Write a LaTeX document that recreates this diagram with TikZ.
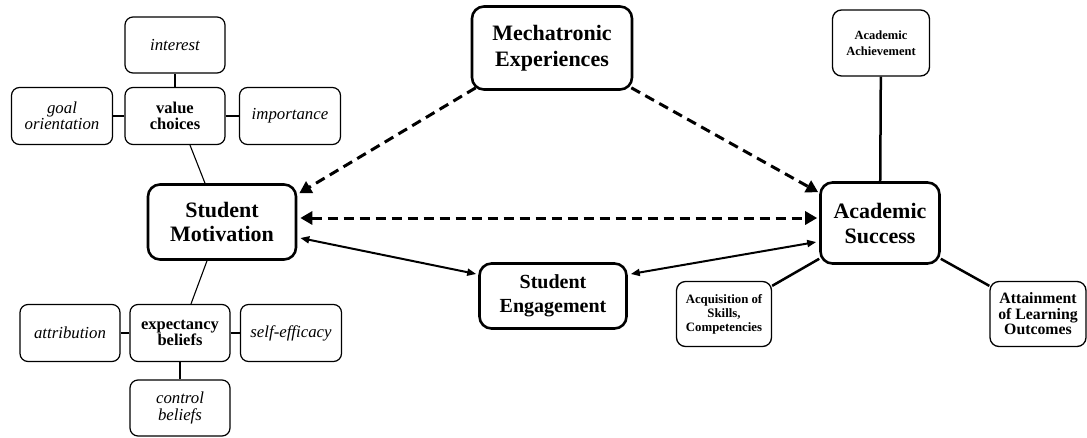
\documentclass[tikz,border=0pt]{standalone}
\usepackage{fontspec}
\setmainfont{Liberation Serif}
\usetikzlibrary{arrows.meta}
\begin{document}
\begin{tikzpicture}[x=1pt,y=-1pt,
  small/.style={draw,rounded corners=8pt,line width=1.2pt,align=center,inner sep=0pt,font=\fontsize{16.8}{16.5}\selectfont\itshape},
  smallb/.style={small,font=\fontsize{16.5}{16}\selectfont\bfseries},
  big/.style={draw,rounded corners=12pt,line width=2.6pt,align=center,inner sep=0pt,font=\fontsize{22}{25}\selectfont\bfseries},
  outc/.style={draw,rounded corners=9pt,line width=1.3pt,align=center,inner sep=0pt},
  thin/.style={line width=1.1pt},
  dasharrow/.style={line width=3pt,dash pattern=on 10pt off 6pt,{Triangle[length=12pt,width=13pt]}-{Triangle[length=12pt,width=13pt]}},
  solidarrow/.style={line width=2pt,{Triangle[length=9pt,width=7pt]}-{Triangle[length=9pt,width=7pt]}},
  thick/.style={line width=2.5pt}]
\useasboundingbox (0,0) rectangle (1087,437);
% left cluster
\node[small,minimum width=100pt,minimum height=56pt] (int) at (175,45) {interest};
\node[smallb,minimum width=100pt,minimum height=57pt] (vc) at (175,116) {value\\choices};
\node[small,minimum width=101pt,minimum height=57pt] (go) at (62,116) {goal\\orientation};
\node[small,minimum width=101pt,minimum height=57pt] (imp) at (290,116) {importance};
\node[big,minimum width=148pt,minimum height=75pt,font=\fontsize{22}{24}\selectfont\bfseries] (mot) at (222,222) {Student\\Motivation};
\node[smallb,minimum width=100pt,minimum height=57pt] (eb) at (180,333) {expectancy\\beliefs};
\node[small,minimum width=100pt,minimum height=57pt] (att) at (70,333) {attribution};
\node[small,minimum width=101pt,minimum height=57pt] (se) at (291,333) {self-efficacy};
\node[small,minimum width=100pt,minimum height=56pt] (cb) at (180,408) {control\\beliefs};
% centre
\node[big,minimum width=160pt,minimum height=83pt,font=\fontsize{22}{26.5}\selectfont\bfseries] (mech) at (552,48) {Mechatronic\\Experiences};
\node[big,minimum width=147pt,minimum height=65pt,font=\fontsize{20}{24}\selectfont\bfseries] (eng) at (553,296) {Student\\Engagement};
% right cluster
\node[big,minimum width=119pt,minimum height=81pt] (suc) at (880,223) {Academic\\Success};
\node[outc,minimum width=97pt,minimum height=66pt,font=\fontsize{12.5}{16}\selectfont\bfseries] (ach) at (881,43) {Academic\\Achievement};
\node[outc,minimum width=95pt,minimum height=65pt,font=\fontsize{12.8}{14}\selectfont\bfseries] (acq) at (724,314) {Acquisition of\\Skills,\\Competencies};
\node[outc,minimum width=96pt,minimum height=65pt,font=\fontsize{15.8}{15.5}\selectfont\bfseries] (atn) at (1038,314) {Attainment\\of Learning\\Outcomes};
% thin connectors
\draw[thin] (vc) -- (int);
\draw[thin] (vc) -- (go);
\draw[thin] (vc) -- (imp);
\draw[thin] (eb) -- (att);
\draw[thin] (eb) -- (se);
\draw[thin] (eb) -- (cb);
\draw[thin] ([xshift=15pt]vc.south) -- ([xshift=-17pt]mot.north);
\draw[thin] ([xshift=-15pt]mot.south) -- ([xshift=11pt]eb.north);
% thick connectors
\draw[thick] (suc) -- (ach);
\draw[thick] ([yshift=6pt]suc.south west) -- ([yshift=-5pt]acq.north east);
\draw[thick] ([yshift=6pt]suc.south east) -- ([yshift=-5pt]atn.north west);
% arrows
\draw[dasharrow,{}-{Triangle[length=12pt,width=13pt]}] ([xshift=5pt,yshift=3pt]mech.south west) -- ([xshift=2pt,yshift=-10pt]mot.north east);
\draw[dasharrow,{}-{Triangle[length=12pt,width=13pt]}] ([xshift=-2pt,yshift=3pt]mech.south east) -- ([xshift=-1pt,yshift=-11pt]suc.north west);
\draw[dasharrow] ([xshift=3pt,yshift=4pt]mot.east) -- ([xshift=-2pt,yshift=5pt]suc.west);
\draw[solidarrow] ([xshift=3pt,yshift=-16pt]mot.east) -- ([xshift=-2pt,yshift=22pt]eng.west);
\draw[solidarrow] ([xshift=-3pt,yshift=-19pt]suc.west) -- ([xshift=3pt,yshift=22pt]eng.east);
\end{tikzpicture}
\end{document}
